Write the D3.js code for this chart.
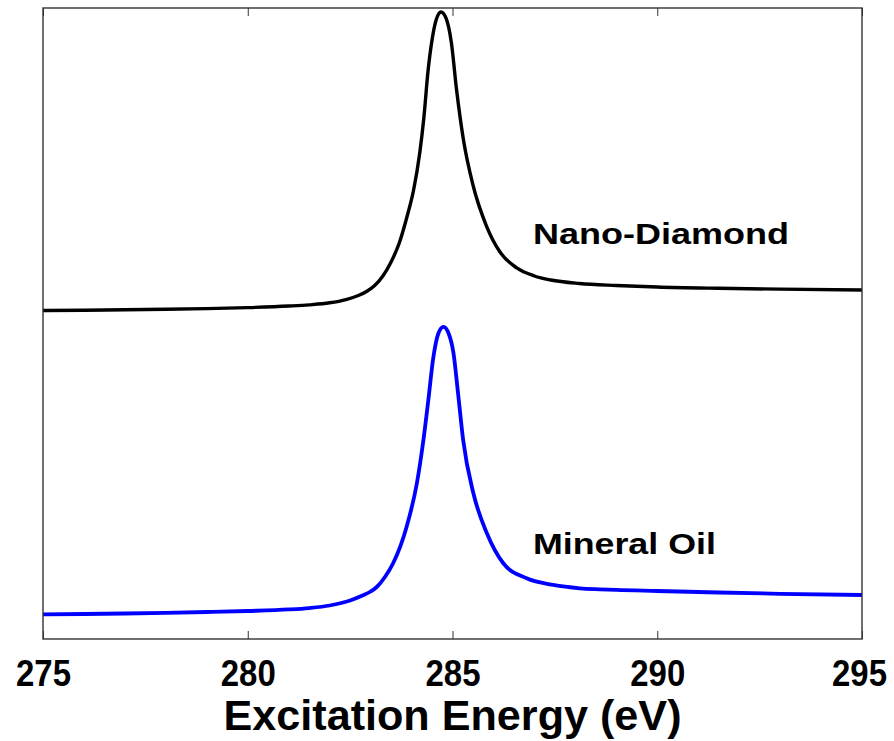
<!DOCTYPE html>
<html>
<head>
<meta charset="utf-8">
<script src="https://cdn.jsdelivr.net/npm/d3@7"></script>
<style>
  html, body { margin: 0; padding: 0; background: #fff; }
  svg { display: block; }
  text { font-family: "Liberation Sans", Arial, Helvetica, sans-serif; font-weight: bold; fill: #000; }
</style>
</head>
<body>
<svg id="chart" width="894" height="741"></svg>
<script>
// X-ray absorption spectra near the carbon K-edge (arbitrary intensity units)
const energyND = [275.0, 276.0, 277.0, 278.0, 279.0, 280.0, 281.0, 281.5, 282.0, 282.4, 282.7, 282.9, 283.1, 283.3, 283.5, 283.7, 283.9, 284.05, 284.2, 284.3, 284.4, 284.5, 284.6, 284.72, 284.84, 284.97, 285.1, 285.26, 285.5, 285.83, 286.16, 286.57, 287.0, 287.4, 288.1, 289.0, 290.0, 291.5, 293.0, 295.0];
const intensityND = [0.5206, 0.5211, 0.5217, 0.5225, 0.5236, 0.5252, 0.5277, 0.5296, 0.5328, 0.5380, 0.5444, 0.5507, 0.5602, 0.5753, 0.5975, 0.6276, 0.6719, 0.7116, 0.7702, 0.8257, 0.8986, 0.9493, 0.9810, 0.9937, 0.9842, 0.9461, 0.8700, 0.7940, 0.7195, 0.6545, 0.6133, 0.5880, 0.5753, 0.5689, 0.5634, 0.5602, 0.5578, 0.5558, 0.5544, 0.5531];

const energyMO = [275.0, 276.0, 277.0, 278.0, 279.0, 280.0, 281.0, 281.5, 282.0, 282.5, 282.8, 283.0, 283.15, 283.35, 283.55, 283.88, 284.13, 284.29, 284.41, 284.53, 284.65, 284.78, 284.91, 285.02, 285.14, 285.26, 285.51, 285.84, 286.24, 286.81, 287.46, 288.11, 288.6, 289.0, 290.0, 291.5, 293.0, 295.0];
const intensityMO = [0.0391, 0.0396, 0.0404, 0.0415, 0.0428, 0.0444, 0.0468, 0.0491, 0.0531, 0.0610, 0.0689, 0.0753, 0.0824, 0.0983, 0.1200, 0.1780, 0.2468, 0.3154, 0.3788, 0.4453, 0.4834, 0.4945, 0.4834, 0.4548, 0.3867, 0.3154, 0.2309, 0.1675, 0.1200, 0.0962, 0.0856, 0.0803, 0.0787, 0.0777, 0.0761, 0.0737, 0.0716, 0.0697];

const xTicks = [275, 280, 285, 290, 295];
const seriesNames = ["Nano-Diamond", "Mineral Oil"];
const seriesColors = ["#000000", "#0000ff"];

const svg = d3.select("#chart");
const margin = { left: 43, right: 32, top: 8, bottom: 102 };
const W = 894, H = 741;
const x0 = margin.left, x1 = W - margin.right;
const y0 = H - margin.bottom, y1 = margin.top;

const x = d3.scaleLinear().domain([275, 295]).range([x0, x1]);
const y = d3.scaleLinear().domain([0, 1]).range([y0, y1]);

const g = svg.append("g");

// spectra
const series = [
  { name: seriesNames[0], color: seriesColors[0], width: 3.4, pts: energyND.map((e, i) => [e, intensityND[i]]) },
  { name: seriesNames[1], color: seriesColors[1], width: 3.8, pts: energyMO.map((e, i) => [e, intensityMO[i]]) }
];
const line = d3.line()
  .x(d => x(d[0]))
  .y(d => y(d[1]))
  .curve(d3.curveMonotoneX);

g.selectAll("path.spec")
  .data(series)
  .join("path")
  .attr("class", "spec")
  .attr("fill", "none")
  .attr("stroke", d => d.color)
  .attr("stroke-width", d => d.width)
  .attr("stroke-linejoin", "round")
  .attr("d", d => line(d.pts));

// bottom axis with inward ticks
const xAxis = d3.axisBottom(x).tickValues(xTicks).tickSizeInner(-8).tickSizeOuter(0).tickPadding(18);
const ax = g.append("g").attr("transform", `translate(0,${y0})`).call(xAxis);
ax.select(".domain").remove();
ax.selectAll(".tick line").attr("stroke", "#333").attr("stroke-width", 1);
ax.selectAll(".tick text")
  .attr("y", 0).attr("dy", 0)
  .attr("transform", (d, i, n) => `translate(${i === n.length - 1 ? -3 : 0},47)`)
  .style("font-size", "37px")
  .style("font-family", "'Liberation Sans', Arial, sans-serif")
  .style("font-weight", "bold")
  .attr("textLength", 55)
  .attr("lengthAdjust", "spacingAndGlyphs");

// top axis ticks (inward, no labels)
const xTop = d3.axisTop(x).tickValues(xTicks).tickSizeInner(-8).tickSizeOuter(0).tickFormat("");
const axT = g.append("g").attr("transform", `translate(0,${y1})`).call(xTop);
axT.select(".domain").remove();
axT.selectAll(".tick line").attr("stroke", "#333").attr("stroke-width", 1);

// frame
g.append("rect")
  .attr("x", x0).attr("y", y1)
  .attr("width", x1 - x0).attr("height", y0 - y1)
  .attr("fill", "none")
  .attr("stroke", "#333")
  .attr("stroke-width", 1.4);

// series labels
const labelPos = [
  { text: seriesNames[0], xv: 287.0, baseline: 244, len: 256 },
  { text: seriesNames[1], xv: 287.0, baseline: 554, len: 183 }
];
g.selectAll("text.lbl")
  .data(labelPos)
  .join("text")
  .attr("class", "lbl")
  .attr("x", d => x(d.xv) - 1.5)
  .attr("y", d => d.baseline)
  .style("font-size", "29px")
  .attr("textLength", d => d.len)
  .attr("lengthAdjust", "spacingAndGlyphs")
  .text(d => d.text);

// axis title
svg.append("text")
  .attr("x", (x0 + x1) / 2)
  .attr("y", 730)
  .attr("text-anchor", "middle")
  .style("font-size", "42px")
  .attr("textLength", 458)
  .attr("lengthAdjust", "spacingAndGlyphs")
  .text("Excitation Energy (eV)");
</script>
</body>
</html>
